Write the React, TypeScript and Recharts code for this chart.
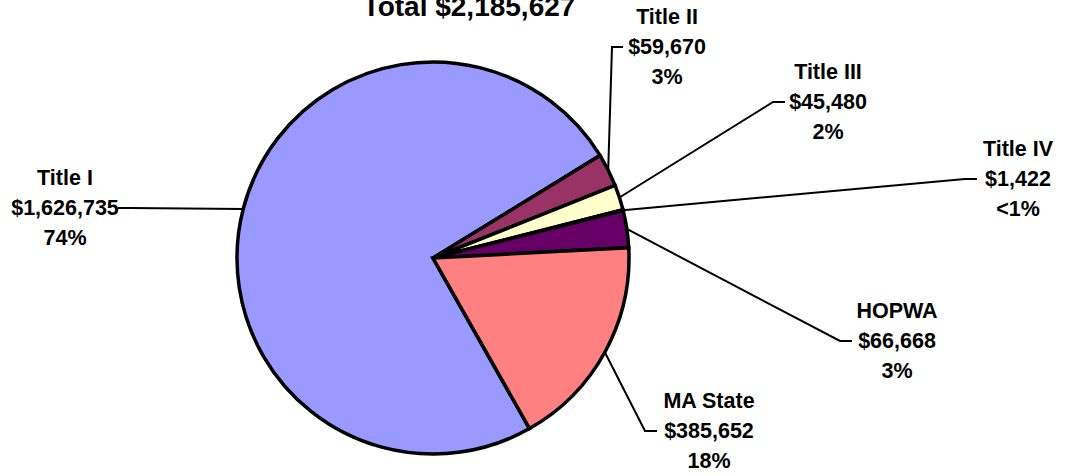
import { PieChart, Pie, Cell } from 'recharts';

const categories = ['Title I', 'Title II', 'Title III', 'Title IV', 'HOPWA', 'MA State'];
const amounts = [1626735, 59670, 45480, 1422, 66668, 385652];
const sliceColors = ['#9999FF', '#993366', '#FFFFCC', '#CCFFFF', '#660066', '#FF8080'];
const totalLabel = 'Total $2,185,627';

// hand-placed label blocks: text centre x, baseline of the $ line, elbow x, end of stub x
const labelSpots = [
  { tx: 65, ty: 215, elbowX: 130, endX: 118 },
  { tx: 667, ty: 54, elbowX: 612, endX: 623 },
  { tx: 828, ty: 109, elbowX: 773, endX: 785 },
  { tx: 1018, ty: 186, elbowX: 965, endX: 977 },
  { tx: 897, ty: 348, elbowX: 840, endX: 852 },
  { tx: 709, ty: 438, elbowX: 645, endX: 657 },
];

const FONT = '"Liberation Sans", Arial, sans-serif';

const fmtMoney = (v: number) => '$' + v.toLocaleString('en-US');
const fmtPct = (p: number) => (p < 0.01 ? '<1%' : `${Math.round(p * 100)}%`);

// eslint-disable-next-line @typescript-eslint/no-explicit-any
const renderLabel = (p: any) => {
  const spot = labelSpots[p.index];
  const rad = Math.PI / 180;
  const sx = p.cx + p.outerRadius * Math.cos(-p.midAngle * rad);
  const sy = p.cy + p.outerRadius * Math.sin(-p.midAngle * rad);
  const ly = spot.ty - 7;
  const textProps = {
    x: spot.tx,
    textAnchor: 'middle' as const,
    fontFamily: FONT,
    fontWeight: 700,
    fontSize: 21.5,
    fill: '#000',
  };
  return (
    <g key={`lbl-${p.index}`}>
      <polyline
        points={`${sx},${sy} ${spot.elbowX},${ly} ${spot.endX},${ly}`}
        fill="none"
        stroke="#000"
        strokeWidth={2}
      />
      <text {...textProps} y={spot.ty - 30}>{p.name}</text>
      <text {...textProps} y={spot.ty}>{fmtMoney(p.value)}</text>
      <text {...textProps} y={spot.ty + 30}>{fmtPct(p.percent)}</text>
    </g>
  );
};

export default function App() {
  const data = categories.map((name, i) => ({ name, value: amounts[i] }));

  return (
    <div style={{ position: 'fixed', left: 0, top: 0, width: 1066, height: 475, background: '#fff' }}>
      <PieChart width={1066} height={475} margin={{ top: 0, right: 0, bottom: 0, left: 0 }}>
        <Pie
          data={data}
          dataKey="value"
          nameKey="name"
          cx={433}
          cy={258}
          outerRadius={196}
          startAngle={299.5}
          endAngle={-60.5}
          stroke="#000"
          strokeWidth={3.5}
          labelLine={false}
          label={renderLabel}
          isAnimationActive={false}
        >
          {data.map((d, i) => (
            <Cell key={d.name} fill={sliceColors[i]} />
          ))}
        </Pie>
      </PieChart>
      <svg width={1066} height={40} style={{ position: 'absolute', left: 0, top: 0 }}>
        <text x={469} y={16} textAnchor="middle" fontFamily={FONT} fontWeight={700} fontSize={28} fill="#000">
          {totalLabel}
        </text>
      </svg>
    </div>
  );
}
